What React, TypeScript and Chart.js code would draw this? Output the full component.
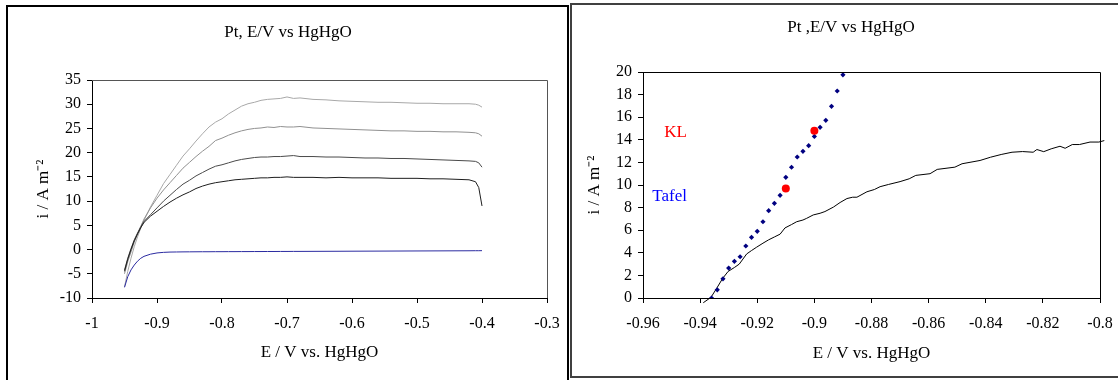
import React, { useEffect, useRef } from "react";
import { Chart, registerables } from "chart.js";

Chart.register(...registerables);

const FONT = "'Liberation Serif', 'Times New Roman', Times, serif";

// ---------- Left chart data ----------
const LEFT_TITLE = "Pt, E/V vs HgHgO";
const X_TITLE = "E / V vs. HgHgO";
const Y_TITLE = "i / A m\u207B\u00B2";

const LEFT_E = [
  -0.95, -0.945, -0.94, -0.935, -0.93, -0.925, -0.92, -0.91, -0.9, -0.89, -0.88, -0.87, -0.86, -0.85,
  -0.84, -0.83, -0.82, -0.81, -0.8, -0.79, -0.78, -0.77, -0.76, -0.75, -0.74, -0.73, -0.72, -0.71,
  -0.7, -0.69, -0.68, -0.66, -0.64, -0.62, -0.6, -0.58, -0.56, -0.54, -0.52, -0.5, -0.48, -0.46,
  -0.44, -0.42, -0.41, -0.405, -0.4,
];
const LEFT_I_31 = [
  -7.7, -4.5, -1.8, 0.6, 2.6, 4.4, 6.0, 8.8, 11.2, 13.6, 15.5, 17.4, 19.3, 20.8,
  22.4, 23.9, 25.3, 26.3, 27.0, 28.0, 28.8, 29.6, 30.1, 30.4, 30.8, 31.0, 31.1, 31.2,
  31.5, 31.2, 31.3, 31.0, 30.9, 30.7, 30.6, 30.5, 30.4, 30.4, 30.3, 30.2, 30.2, 30.1,
  30.1, 30.1, 30.0, 29.8, 29.4,
];
const LEFT_I_25 = [
  -5.0, -2.5, -0.5, 1.5, 3.2, 4.8, 6.3, 8.6, 10.6, 12.3, 13.8, 15.3, 16.8, 18.0,
  19.2, 20.3, 21.3, 22.5, 23.0, 23.6, 24.1, 24.5, 24.8, 25.0, 25.1, 25.3, 25.2, 25.4,
  25.3, 25.3, 25.4, 25.1, 25.0, 24.9, 24.8, 24.7, 24.6, 24.5, 24.5, 24.4, 24.4, 24.3,
  24.3, 24.2, 24.1, 23.9, 23.4,
];
const LEFT_I_19 = [
  -4.2, -1.8, 0.2, 2.0, 3.4, 4.7, 5.8, 7.2, 8.6, 10.0, 11.2, 12.4, 13.5, 14.3,
  15.2, 15.9, 16.6, 17.2, 17.5, 17.9, 18.3, 18.6, 18.8, 19.0, 19.1, 19.1, 19.2, 19.2,
  19.3, 19.4, 19.2, 19.2, 19.1, 19.1, 19.0, 18.9, 18.9, 18.8, 18.8, 18.7, 18.6, 18.5,
  18.4, 18.3, 18.2, 17.9, 17.0,
];
const LEFT_I_15 = [
  -4.5, -2.0, 0.0, 1.8, 3.2, 4.5, 5.6, 6.9, 7.9, 8.9, 9.8, 10.6, 11.3, 11.9,
  12.6, 13.1, 13.5, 13.8, 14.0, 14.2, 14.4, 14.5, 14.6, 14.7, 14.8, 14.8, 14.9, 14.9,
  15.0, 14.9, 14.9, 14.9, 14.8, 14.9, 14.8, 14.8, 14.8, 14.7, 14.7, 14.7, 14.6, 14.6,
  14.5, 14.4, 14.0, 12.8, 9.0,
];
const LEFT_I_BLANK = [
  -7.8, -5.6, -4.2, -3.2, -2.4, -1.8, -1.4, -0.95, -0.7, -0.58, -0.52, -0.5, -0.48, -0.47,
  -0.46, -0.45, -0.45, -0.44, -0.44, -0.43, -0.43, -0.42, -0.42, -0.41, -0.41, -0.4, -0.4, -0.39,
  -0.39, -0.38, -0.38, -0.37, -0.36, -0.35, -0.34, -0.33, -0.32, -0.31, -0.3, -0.29, -0.28, -0.27,
  -0.26, -0.25, -0.24, -0.24, -0.23,
];
const LEFT_X_TICKS = [-1, -0.9, -0.8, -0.7, -0.6, -0.5, -0.4, -0.3];
const LEFT_X_LABELS = ["-1", "-0.9", "-0.8", "-0.7", "-0.6", "-0.5", "-0.4", "-0.3"];
const LEFT_Y_TICKS = [-10, -5, 0, 5, 10, 15, 20, 25, 30, 35];
const LEFT_Y_LABELS = ["-10", "-5", "0", "5", "10", "15", "20", "25", "30", "35"];

// ---------- Right chart data ----------
const RIGHT_TITLE = "Pt ,E/V vs HgHgO";
const TAFEL_E = [
  -0.936, -0.934, -0.932, -0.93, -0.928, -0.926, -0.924, -0.922, -0.92, -0.918, -0.916, -0.914,
  -0.912, -0.91, -0.908, -0.906, -0.904, -0.902, -0.9, -0.898, -0.896, -0.894, -0.892, -0.89,
];
const TAFEL_I = [
  0.0, 0.72, 1.7, 2.65, 3.25, 3.65, 4.6, 5.37, 5.9, 6.75, 7.73, 8.38,
  9.09, 10.68, 11.57, 12.48, 12.98, 13.48, 14.3, 15.1, 15.72, 16.96, 18.32, 19.75,
];
const KL_E = [-0.91, -0.9];
const KL_I = [9.7, 14.8];
const CURVE_E = [
  -0.9389, -0.9362, -0.9342, -0.9321, -0.9302, -0.928, -0.9263, -0.9237, -0.922, -0.9202, -0.918,
  -0.916, -0.914, -0.912, -0.9103, -0.908, -0.9062, -0.904, -0.9027, -0.9004, -0.898, -0.8963,
  -0.8933, -0.891, -0.8886, -0.8866, -0.8851, -0.8816, -0.879, -0.877, -0.874, -0.87, -0.8668,
  -0.8645, -0.8595, -0.857, -0.8508, -0.8483, -0.842, -0.8383, -0.8346, -0.8308, -0.8271, -0.8234,
  -0.8221, -0.8197, -0.8171, -0.814, -0.8122, -0.8097, -0.8072, -0.8035, -0.8004, -0.7985,
];
const CURVE_I = [
  -0.42, 0.06, 0.86, 1.74, 2.35, 2.7, 3.0, 3.9, 4.2, 4.5, 4.85,
  5.15, 5.4, 5.65, 6.2, 6.5, 6.75, 6.9, 7.05, 7.35, 7.5, 7.65,
  8.05, 8.45, 8.8, 8.92, 8.92, 9.4, 9.6, 9.85, 10.05, 10.3, 10.55,
  10.85, 11.0, 11.38, 11.58, 11.88, 12.17, 12.46, 12.7, 12.9, 12.96, 12.9,
  13.14, 12.95, 13.2, 13.43, 13.25, 13.58, 13.58, 13.8, 13.8, 13.93,
];
const RIGHT_X_TICKS = [-0.96, -0.94, -0.92, -0.9, -0.88, -0.86, -0.84, -0.82, -0.8];
const RIGHT_X_LABELS = ["-0.96", "-0.94", "-0.92", "-0.9", "-0.88", "-0.86", "-0.84", "-0.82", "-0.8"];
const RIGHT_Y_TICKS = [0, 2, 4, 6, 8, 10, 12, 14, 16, 18, 20];
const RIGHT_Y_LABELS = ["0", "2", "4", "6", "8", "10", "12", "14", "16", "18", "20"];
const RIGHT_NOTES = [
  { text: "KL", e: -0.9446, i: 14.6, color: "#ff0000" },
  { text: "Tafel", e: -0.9446, i: 9.0, color: "#0000ff" },
];

const pts = (xs: number[], ys: number[]) => xs.map((x, k) => ({ x, y: ys[k] }));

const makeBoxPlugin = (color: string) => ({
  id: "plotBox",
  afterDatasetsDraw(chart: any) {
    const { ctx, chartArea } = chart;
    const { left, right, top, bottom } = chartArea;
    ctx.save();
    ctx.strokeStyle = color;
    ctx.lineWidth = 1;
    ctx.beginPath();
    ctx.moveTo(Math.round(left), Math.round(top) + 0.5);
    ctx.lineTo(Math.round(right) + 0.5, Math.round(top) + 0.5);
    ctx.lineTo(Math.round(right) + 0.5, Math.round(bottom));
    ctx.stroke();
    ctx.restore();
  },
});

const notesPlugin = {
  id: "notes",
  afterDatasetsDraw(chart: any) {
    const { ctx, scales } = chart;
    ctx.save();
    ctx.font = `17px ${FONT}`;
    ctx.textAlign = "right";
    ctx.textBaseline = "middle";
    for (const n of RIGHT_NOTES) {
      ctx.fillStyle = n.color;
      ctx.fillText(n.text, scales.x.getPixelForValue(n.e), scales.y.getPixelForValue(n.i));
    }
    ctx.restore();
  },
};

const axisCommon = (ticks: number[], labels: string[], pad: number) => ({
  type: "linear" as const,
  afterBuildTicks: (s: any) => {
    s.ticks = ticks.map((v) => ({ value: v }));
  },
  grid: {
    display: true,
    drawOnChartArea: false,
    drawTicks: true,
    tickLength: 5,
    color: "#000",
    tickColor: "#000",
    lineWidth: 1,
  },
  border: { display: true, color: "#000", width: 1 },
  ticks: {
    autoSkip: false,
    maxRotation: 0,
    minRotation: 0,
    padding: pad,
    color: "#000",
    font: { family: FONT, size: 16, lineHeight: 1.2 },
    callback: (_v: any, idx: number) => labels[idx],
  },
});

function ChartCanvas({ config, left, top, width, height }: any) {
  const ref = useRef<HTMLCanvasElement>(null);
  useEffect(() => {
    const chart = new Chart(ref.current as HTMLCanvasElement, config);
    return () => chart.destroy();
  }, []);
  return (
    <canvas
      ref={ref}
      width={width}
      height={height}
      style={{ position: "absolute", left, top, width, height }}
    />
  );
}

const titleFont = { family: FONT, size: 17, weight: "normal" as const, lineHeight: 1.2 };

const leftConfig: any = {
  type: "scatter",
  data: {
    datasets: [
      { data: pts(LEFT_E, LEFT_I_BLANK), borderColor: "#2a2aa0", showLine: true, pointRadius: 0, borderWidth: 1 },
      { data: pts(LEFT_E, LEFT_I_15), borderColor: "#1e1e1e", showLine: true, pointRadius: 0, borderWidth: 1 },
      { data: pts(LEFT_E, LEFT_I_19), borderColor: "#4a4a4a", showLine: true, pointRadius: 0, borderWidth: 1 },
      { data: pts(LEFT_E, LEFT_I_25), borderColor: "#909090", showLine: true, pointRadius: 0, borderWidth: 1 },
      { data: pts(LEFT_E, LEFT_I_31), borderColor: "#a8a8a8", showLine: true, pointRadius: 0, borderWidth: 1 },
    ],
  },
  options: {
    responsive: false,
    animation: false,
    events: [],
    layout: { padding: { left: 21, right: 19, top: 0, bottom: 0 } },
    plugins: {
      legend: { display: false },
      tooltip: { enabled: false },
      title: {
        display: true,
        text: LEFT_TITLE,
        color: "#000",
        font: titleFont,
        padding: { top: 14.8, bottom: 36.8 },
      },
    },
    scales: {
      x: {
        ...axisCommon(LEFT_X_TICKS, LEFT_X_LABELS, 11),
        min: -1,
        max: -0.3,
        afterFit: (s: any) => {
          s.height = 82;
          s.paddingLeft = 0;
          s.paddingRight = 0;
        },
        title: { display: true, text: X_TITLE, color: "#000", font: titleFont, padding: { top: 0, bottom: 16.8 } },
      },
      y: {
        ...axisCommon(LEFT_Y_TICKS, LEFT_Y_LABELS, 6),
        min: -10,
        max: 35,
        afterFit: (s: any) => {
          s.width = 63;
          s.paddingTop = 0;
          s.paddingBottom = 0;
        },
        title: { display: true, text: Y_TITLE, color: "#000", font: titleFont, padding: { top: 4.8, bottom: 0 } },
      },
    },
  },
  plugins: [makeBoxPlugin("#555555")],
};

const rightConfig: any = {
  type: "scatter",
  data: {
    datasets: [
      { data: pts(KL_E, KL_I), backgroundColor: "#ff0000", borderColor: "#ff0000", pointRadius: 4, borderWidth: 0, pointStyle: "circle" },
      { data: pts(TAFEL_E, TAFEL_I), backgroundColor: "#000080", borderColor: "#000080", pointRadius: 2.6, borderWidth: 0, pointStyle: "rectRot" },
      { data: pts(CURVE_E, CURVE_I), borderColor: "#000", showLine: true, pointRadius: 0, borderWidth: 1, clip: false },
    ],
  },
  options: {
    responsive: false,
    animation: false,
    events: [],
    layout: { padding: { left: 29, right: 18, top: 0, bottom: 0 } },
    plugins: {
      legend: { display: false },
      tooltip: { enabled: false },
      title: {
        display: true,
        text: RIGHT_TITLE,
        color: "#000",
        font: titleFont,
        padding: { top: 12.8, bottom: 33.8 },
      },
    },
    scales: {
      x: {
        ...axisCommon(RIGHT_X_TICKS, RIGHT_X_LABELS, 11),
        min: -0.96,
        max: -0.8,
        afterFit: (s: any) => {
          s.height = 77;
          s.paddingLeft = 0;
          s.paddingRight = 0;
        },
        title: { display: true, text: X_TITLE, color: "#000", font: titleFont, padding: { top: 0, bottom: 10.8 } },
      },
      y: {
        ...axisCommon(RIGHT_Y_TICKS, RIGHT_Y_LABELS, 6),
        min: 0,
        max: 20,
        afterFit: (s: any) => {
          s.width = 41;
          s.paddingTop = 0;
          s.paddingBottom = 0;
        },
        title: { display: true, text: Y_TITLE, color: "#000", font: titleFont, padding: { top: -17.2, bottom: 0 } },
      },
    },
  },
  plugins: [makeBoxPlugin("#000000"), notesPlugin],
};

export default function App() {
  return (
    <div
      style={{
        position: "absolute",
        left: 0,
        top: 0,
        width: 1118,
        height: 380,
        overflow: "hidden",
        background: "#fff",
      }}
    >
      <div
        style={{
          position: "absolute",
          left: 6,
          top: 5,
          width: 563,
          height: 400,
          border: "2px solid #000",
          boxSizing: "border-box",
        }}
      />
      <div
        style={{
          position: "absolute",
          left: 570,
          top: 3,
          width: 560,
          height: 375,
          border: "2px solid #404040",
          boxSizing: "border-box",
        }}
      />
      <ChartCanvas config={leftConfig} left={8} top={8} width={558} height={372} />
      <ChartCanvas config={rightConfig} left={573} top={5} width={545} height={370} />
    </div>
  );
}
